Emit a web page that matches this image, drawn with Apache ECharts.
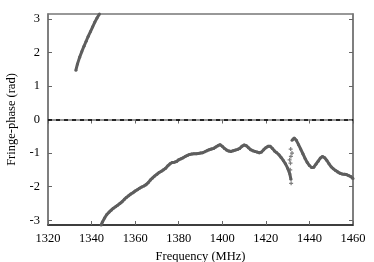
<!DOCTYPE html>
<html><head><meta charset="utf-8">
<script src="https://cdn.jsdelivr.net/npm/echarts@6/dist/echarts.min.js"></script>
<style>html,body{margin:0;padding:0;background:#fff}#c{width:374px;height:262px}</style>
</head><body><div id="c"></div>
<script>
const xTicks = [1320,1340,1360,1380,1400,1420,1440,1460];
const yTicks = [-3,-2,-1,0,1,2,3];
const upperFreq = [1332.8,1333.5,1334.5,1335.5,1336.5,1337.5,1338.5,1339.5,1340.5,1341.5,1342.5,1343.6];
const upperPhase = [1.47,1.65,1.85,2.02,2.18,2.33,2.48,2.62,2.76,2.90,3.02,3.14];
const lowerFreqA = [1344.4,1345,1346,1347,1348,1349,1350,1351,1352,1353,1354,1355,1356,1357,1358,1359,1360,1361,1362,1363,1364,1365,1366,1367,1368,1369,1370,1371,1372,1373,1374,1375,1376,1377,1378,1379,1380,1381,1382,1383,1384,1385,1386,1387,1388,1389,1390,1391,1392,1393,1394,1395,1396,1397,1398,1399,1400,1401,1402,1403,1404,1405,1406,1407,1408,1409,1410,1411,1412,1413,1414,1415,1416,1417,1418,1419,1420,1421,1422,1423,1424,1425,1426,1427,1428,1429,1430,1431,1431.5];
const lowerPhaseA = [-3.14,-3.05,-2.93,-2.83,-2.76,-2.70,-2.64,-2.60,-2.55,-2.50,-2.45,-2.38,-2.32,-2.27,-2.22,-2.18,-2.13,-2.09,-2.05,-2.01,-1.98,-1.94,-1.88,-1.80,-1.74,-1.68,-1.63,-1.58,-1.54,-1.50,-1.45,-1.38,-1.32,-1.28,-1.27,-1.25,-1.20,-1.17,-1.14,-1.10,-1.07,-1.04,-1.03,-1.02,-1.02,-1.01,-1.00,-0.99,-0.96,-0.93,-0.90,-0.88,-0.86,-0.82,-0.78,-0.75,-0.80,-0.86,-0.91,-0.94,-0.95,-0.93,-0.91,-0.89,-0.86,-0.80,-0.76,-0.78,-0.84,-0.90,-0.93,-0.95,-0.97,-0.99,-0.97,-0.90,-0.84,-0.80,-0.80,-0.86,-0.94,-0.99,-1.05,-1.13,-1.22,-1.32,-1.45,-1.62,-1.78];
const lowerFreqB = [1432,1433,1434,1435,1436,1437,1438,1439,1440,1441,1442,1443,1444,1445,1446,1447,1448,1449,1450,1451,1452,1453,1454,1455,1456,1457,1458,1459,1460];
const lowerPhaseB = [-0.62,-0.55,-0.62,-0.75,-0.88,-1.02,-1.16,-1.28,-1.37,-1.43,-1.42,-1.33,-1.24,-1.15,-1.10,-1.14,-1.22,-1.32,-1.41,-1.47,-1.52,-1.56,-1.60,-1.62,-1.63,-1.64,-1.67,-1.70,-1.76];
const strayFreq = [1431.4,1431.5,1431.3,1431.2,1431.6,1432.0,1430.9];
const strayPhase = [-0.88,-1.10,-1.30,-1.50,-1.90,-1.00,-1.20];

const zip = (a,b) => a.map((v,i)=>[v,b[i]]);
const font = 'Liberation Serif, Times New Roman, Times, serif';
const col = '#5e5e5e';
const PI = Math.PI;
const lineSeries = (d) => ({type:'line', data:d, showSymbol:true, symbol:'circle', symbolSize:3,
  itemStyle:{color:col}, lineStyle:{color:col, width:3}, silent:true, animation:false});

const chart = echarts.init(document.getElementById('c'), null, {renderer:'canvas'});
chart.setOption({
  animation:false,
  grid:{left:48, right:21, top:14, bottom:37, containLabel:false, outerBoundsMode:'none',
        show:true, borderColor:'#777', borderWidth:1.5},
  xAxis:[
    {type:'value', min:1320, max:1460, interval:20, position:'bottom',
     axisLine:{show:true, onZero:false, lineStyle:{color:'#222', width:1.5}},
     axisTick:{show:true, inside:true, length:4, lineStyle:{color:'#666'}},
     axisLabel:{color:'#000', fontFamily:font, fontSize:12.5, margin:7, formatter:(v)=>String(v)},
     splitLine:{show:false},
     name:'Frequency (MHz)', nameLocation:'middle', nameGap:24,
     nameTextStyle:{color:'#000', fontFamily:font, fontSize:12.5}},
    {type:'value', min:1320, max:1460, interval:20, position:'top',
     axisLine:{show:true, lineStyle:{color:'#777', width:1.5}},
     axisTick:{show:true, inside:true, length:4, lineStyle:{color:'#666'}},
     axisLabel:{show:false}, splitLine:{show:false}}
  ],
  yAxis:[
    {type:'value', min:-PI, max:PI, position:'left',
     axisLine:{show:true, onZero:false, lineStyle:{color:'#777', width:1.5}},
     axisTick:{show:true, inside:true, length:4, customValues:yTicks, lineStyle:{color:'#666'}},
     axisLabel:{color:'#000', fontFamily:font, fontSize:12.5, margin:8, customValues:yTicks},
     splitLine:{show:false},
     name:'Fringe-phase (rad)', nameLocation:'middle', nameGap:29,
     nameTextStyle:{color:'#000', fontFamily:font, fontSize:12.5}},
    {type:'value', min:-PI, max:PI, position:'right',
     axisLine:{show:true, onZero:false, lineStyle:{color:'#777', width:1.5}},
     axisTick:{show:true, inside:true, length:4, customValues:yTicks, lineStyle:{color:'#666'}},
     axisLabel:{show:false}, splitLine:{show:false}}
  ],
  series:[
    Object.assign(lineSeries(zip(upperFreq, upperPhase)), {
      markLine:{silent:true, symbol:'none', label:{show:false},
        lineStyle:{color:'#000', type:[4,4], width:1.5},
        data:[{yAxis:0}]}
    }),
    lineSeries(zip(lowerFreqA, lowerPhaseA)),
    lineSeries(zip(lowerFreqB, lowerPhaseB)),
    {type:'scatter', data:zip(strayFreq, strayPhase), symbol:'path://M-1,0L1,0M0,-1L0,1', symbolSize:4,
     itemStyle:{color:'none', borderColor:col, borderWidth:1.2}, silent:true}
  ]
});
</script></body></html>
